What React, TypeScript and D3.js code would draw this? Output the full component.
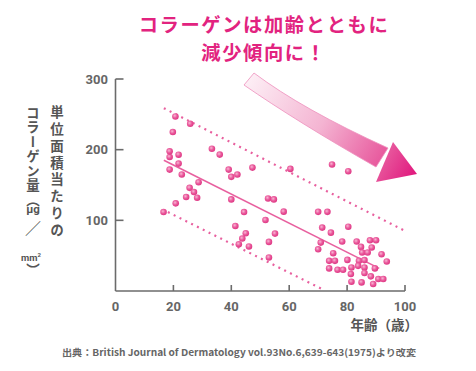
import React from "react";
import * as d3 from "d3";

const ages: number[] = [
  16.6, 20.8, 18.7, 18.7, 18.7, 19.8, 20.7, 21.8, 21.8, 22.9, 25.8, 24.4, 25.6, 27.1, 28.2, 28.7,
  33.3, 36, 39.1, 40, 42.1, 47.3, 40, 44.4, 41.4, 45, 43.8, 42.6, 46.1, 51.8, 52.7, 54.7, 58.1,
  55.1, 53, 53, 60.4, 74.8, 80.4,
  70, 73.2, 80.4, 71.4, 74.4, 70.9, 70, 78.3, 83.3, 87.9, 90, 88.5, 84.8, 75.2, 85.2, 87.1, 91.9,
  80.1, 73.8, 75.8, 84.1, 86, 93.7, 73.8, 76.7, 78.6, 81.5, 86, 89.6, 83.8, 81.3, 86, 88.2, 90.8,
  92.5, 81.5, 85, 89,
];
const collagen: number[] = [
  111.7, 124, 171.8, 189.7, 197.6, 224.9, 247, 192.9, 180.3, 164.8, 236.6, 133, 146, 140, 132, 153.9,
  201.4, 193, 171.8, 161.5, 164.8, 174.6, 129.6, 111.7, 92, 81.7, 74.2, 66.2, 63, 100.5, 131, 129.6, 112.3,
  81.2, 69.5, 47.4, 172.8, 179, 169.5,
  112, 112, 91, 89.7, 82.6, 68.5, 59, 70, 70, 71.8, 71.8, 61.5, 62.4, 53.5, 54.5, 54.5, 52,
  44, 42.7, 42.7, 42.7, 43.7, 41.8, 32, 30, 30, 33.3, 33.3, 32, 35.6, 24, 25.4, 20.7, 16.9,
  16.9, 13.1, 12.2, 9.9,
];

const trendAges: number[] = [16.7, 91.1];
const trendValues: number[] = [185, 32];
const upperAges: number[] = [16.7, 100];
const upperValues: number[] = [258.7, 85];
const lowerAges: number[] = [18.1, 72];
const lowerValues: number[] = [111.7, 1.4];

const xTicks: number[] = [0, 20, 40, 60, 80, 100];
const yTicks: number[] = [100, 200, 300];

const titleLines: string[] = ["コラーゲンは加齢とともに", "減少傾向に！"];
const yLabelCol1 = "単位面積当たりの";
const yLabelCol2 = "コラーゲン量（";
const yUnitA = "μg";
const yUnitSlash = "／";
const yUnitB = "mm";
const yUnitClose = "）";
const xLabel = "年齢（歳）";
const sourceText = "出典：British Journal of Dermatology vol.93No.6,639-643(1975)より改変";

const W = 476;
const H = 371;
const FONT = "'Noto Sans CJK JP', 'Noto Sans', sans-serif";

export default function App() {
  const x = d3.scaleLinear().domain([0, 100]).range([115.5, 405]);
  const y = d3.scaleLinear().domain([0, 300]).range([291, 79]);
  const line = d3
    .line<[number, number]>()
    .x((d) => x(d[0]))
    .y((d) => y(d[1]));
  const pts = (a: number[], v: number[]) => a.map((d, i) => [d, v[i]] as [number, number]);
  const axisColor = "#6b6b6b";
  const lineColor = "#e8609f";

  const arrowBody = "M254,73 Q303,109.8 388,148 L376,167 Q296,121 244,85 Z";
  const arrowHead = "M393,142 L417,174 L376,182 Z";
  const vert: React.CSSProperties = { writingMode: "vertical-rl" as any };

  return (
    <div style={{ position: "fixed", left: 0, top: 0 }}>
      <svg width={W} height={H} viewBox={`0 0 ${W} ${H}`} style={{ display: "block", background: "#fff" }}>
        <defs>
          <radialGradient id="dotGrad" cx="0.4" cy="0.38" r="0.6">
            <stop offset="0" stopColor="#f8b6d4" />
            <stop offset="0.55" stopColor="#ea5a9c" />
            <stop offset="1" stopColor="#df3a86" />
          </radialGradient>
          <linearGradient id="arrowGrad" gradientUnits="userSpaceOnUse" x1="246" y1="78" x2="417" y2="176">
            <stop offset="0" stopColor="#fdf0f6" />
            <stop offset="0.45" stopColor="#f4b4d2" />
            <stop offset="0.8" stopColor="#e85a9e" />
            <stop offset="1" stopColor="#e0157c" />
          </linearGradient>
        </defs>

        {/* Title */}
        <g fill="#e2237f" fontFamily={FONT} fontWeight={700} fontSize={19.3} letterSpacing={1.6} textAnchor="middle">
          {titleLines.map((t, i) => (
            <text key={i} x={264} y={32 + i * 28}>
              {t}
            </text>
          ))}
        </g>

        {/* Arrow */}
        <path d={arrowBody} fill="url(#arrowGrad)" stroke="#ee8fbd" strokeWidth={0.8} />
        <path d={arrowHead} fill="url(#arrowGrad)" />

        {/* Axes */}
        <g stroke={axisColor} strokeWidth={1.6} fill="none">
          <line x1={x(0)} x2={x(0)} y1={y(300)} y2={y(0)} />
          <line x1={x(0)} x2={x(100)} y1={y(0)} y2={y(0)} />
          {yTicks.map((t) => (
            <line key={t} x1={x(0)} x2={x(0) + 8} y1={y(t)} y2={y(t)} />
          ))}
          {xTicks.slice(1).map((t) => (
            <line key={t} x1={x(t)} x2={x(t)} y1={y(0)} y2={y(0) - 6} />
          ))}
        </g>
        <g fill="#666" fontFamily="Roboto, sans-serif" fontWeight={700} fontSize={13}>
          {yTicks.map((t) => (
            <text key={t} x={108} y={y(t)} dy="0.36em" textAnchor="end">
              {t}
            </text>
          ))}
          {xTicks.map((t) => (
            <text key={t} x={x(t)} y={306} dy="0.36em" textAnchor="middle">
              {t}
            </text>
          ))}
        </g>
        <text x={418} y={330} textAnchor="end" fill="#555" fontFamily={FONT} fontWeight={700} fontSize={13.5}>
          {xLabel}
        </text>

        {/* Y label (vertical) */}
        <g fill="#555" fontFamily={FONT} fontWeight={700} fontSize={13.5}>
          <text x={57} y={105} style={vert} letterSpacing={3.4}>
            {yLabelCol1}
          </text>
          <text x={33} y={106} style={vert} letterSpacing={1}>
            {yLabelCol2}
          </text>
          <text x={33} y={213} textAnchor="middle" fontSize={11.5} fontFamily="Roboto, sans-serif">
            {yUnitA}
          </text>
          <text x={33} y={234} textAnchor="middle" fontSize={16} fontWeight={400}>
            {yUnitSlash}
          </text>
          <text x={31} y={261} textAnchor="middle" fontSize={9.5} fontFamily="Roboto, sans-serif">
            {yUnitB}
            <tspan fontSize={6} dy="-4">2</tspan>
          </text>
          <text x={33} y={263} style={vert}>
            {yUnitClose}
          </text>
        </g>

        {/* Lines */}
        <path d={line(pts(upperAges, upperValues)) || ""} stroke={lineColor} strokeWidth={2.2} strokeDasharray="2 4.5" fill="none" />
        <path d={line(pts(lowerAges, lowerValues)) || ""} stroke={lineColor} strokeWidth={2.2} strokeDasharray="2 4.5" fill="none" />
        <path d={line(pts(trendAges, trendValues)) || ""} stroke={lineColor} strokeWidth={1.6} fill="none" />

        {/* Dots */}
        <g>
          {ages.map((a, i) => (
            <circle key={i} cx={x(a)} cy={y(collagen[i])} r={3.3} fill="url(#dotGrad)" />
          ))}
        </g>

        {/* Source */}
        <text
          x={62}
          y={356}
          fill="#666"
          fontFamily={FONT}
          fontWeight={700}
          fontSize={9.5}
          textLength={354}
          lengthAdjust="spacingAndGlyphs"
        >
          {sourceText}
        </text>
      </svg>
    </div>
  );
}
